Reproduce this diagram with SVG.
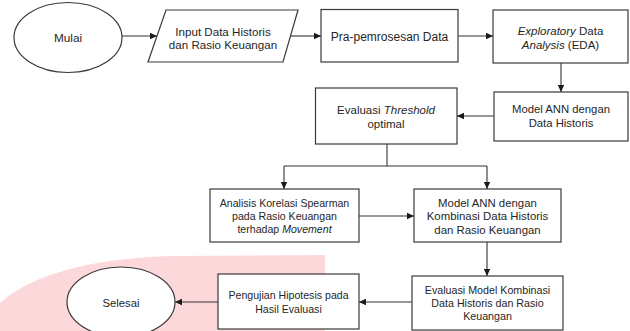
<svg xmlns="http://www.w3.org/2000/svg" width="630" height="331" viewBox="0 0 630 331">
<defs>
<marker id="ah" markerWidth="8" markerHeight="8" refX="7" refY="4" orient="auto" markerUnits="userSpaceOnUse">
<path d="M0,0.8 L7,4 L0,7.2 Z" fill="#1a1a1a"/>
</marker>
<style>
.n{fill:#fff;stroke:#3a3a3a;stroke-width:1.2}
.t{font-family:"Liberation Sans",Arial,sans-serif;fill:#262626;text-anchor:middle}
.c{fill:none;stroke:#333;stroke-width:1.1}
.a{marker-end:url(#ah)}
</style>
</defs>
<rect width="630" height="331" fill="#fff"/>
<path d="M0,303 C30,276 85,259 170,256 L325,255 L325,331 L0,331 Z" fill="#fdd8da"/>
<g id="connectors">
<path class="c a" d="M122,36 H157"/>
<path class="c a" d="M291,36 H321"/>
<path class="c a" d="M458,36 H493"/>
<path class="c a" d="M561,63 V92"/>
<path class="c a" d="M494,116 H457"/>
<path class="c" d="M387,144 V166 M284,166 H487"/>
<path class="c a" d="M284,166 V189"/>
<path class="c a" d="M487,166 V189"/>
<path class="c a" d="M359,216 H414"/>
<path class="c a" d="M487,242 V276"/>
<path class="c a" d="M412,302 H359"/>
<path class="c a" d="M218,302 H175"/>
</g>
<g id="mulai">
<ellipse class="n" cx="68" cy="37.5" rx="54" ry="35"/>
<text class="t" x="68" y="42" font-size="11.8">Mulai</text>
</g>
<g id="input">
<path class="n" d="M166,10 H298 L283,62 H148 Z"/>
<text class="t" font-size="11.6"><tspan x="223" y="36">Input Data Historis</tspan><tspan x="223" y="49">dan Rasio Keuangan</tspan></text>
</g>
<g id="pra">
<rect class="n" x="321" y="9.5" width="137" height="52.5"/>
<text class="t" x="389.5" y="41" font-size="12">Pra-pemrosesan Data</text>
</g>
<g id="eda">
<rect class="n" x="493" y="10" width="135" height="53"/>
<text class="t" font-size="11.5"><tspan x="560.5" y="35"><tspan font-style="italic">Exploratory</tspan> Data</tspan><tspan x="560.5" y="49"><tspan font-style="italic">Analysis</tspan> (EDA)</tspan></text>
</g>
<g id="threshold">
<rect class="n" x="315.5" y="88" width="141.5" height="56"/>
<text class="t" font-size="11.5"><tspan x="386" y="114">Evaluasi <tspan font-style="italic">Threshold</tspan></tspan><tspan x="386" y="128">optimal</tspan></text>
</g>
<g id="annhist">
<rect class="n" x="494" y="92" width="134" height="49"/>
<text class="t" font-size="11.3"><tspan x="561" y="113">Model ANN dengan</tspan><tspan x="561" y="127">Data Historis</tspan></text>
</g>
<g id="spearman">
<rect class="n" x="210" y="189" width="149" height="53"/>
<text class="t" font-size="10.6"><tspan x="284.5" y="207">Analisis Korelasi Spearman</tspan><tspan x="284.5" y="220">pada Rasio Keuangan</tspan><tspan x="284.5" y="233">terhadap <tspan font-style="italic">Movement</tspan></tspan></text>
</g>
<g id="annkomb">
<rect class="n" x="414" y="189" width="147" height="53"/>
<text class="t" font-size="11.4"><tspan x="487.5" y="207">Model ANN dengan</tspan><tspan x="487.5" y="220">Kombinasi Data Historis</tspan><tspan x="487.5" y="234">dan Rasio Keuangan</tspan></text>
</g>
<g id="evalmodel">
<rect class="n" x="412" y="276" width="151" height="54"/>
<text class="t" font-size="10.7"><tspan x="487.5" y="294">Evaluasi Model Kombinasi</tspan><tspan x="487.5" y="307">Data Historis dan Rasio</tspan><tspan x="487.5" y="320">Keuangan</tspan></text>
</g>
<g id="pengujian">
<rect class="n" x="218" y="274" width="141" height="55"/>
<text class="t" font-size="10.6"><tspan x="288.5" y="299">Pengujian Hipotesis pada</tspan><tspan x="288.5" y="313">Hasil Evaluasi</tspan></text>
</g>
<g id="selesai">
<ellipse class="n" cx="121" cy="302" rx="54" ry="35"/>
<text class="t" x="121" y="307" font-size="11.3">Selesai</text>
</g>
</svg>
